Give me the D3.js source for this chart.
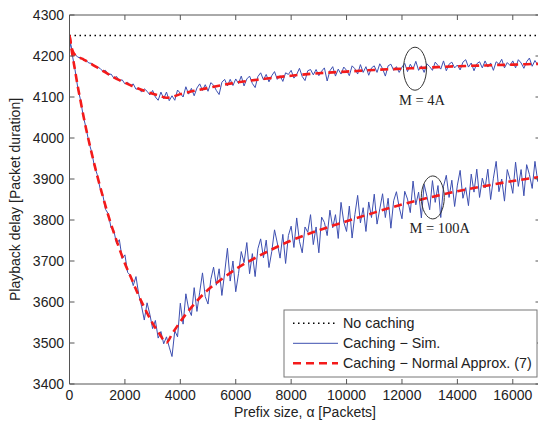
<!DOCTYPE html>
<html><head><meta charset="utf-8">
<script src="https://cdn.jsdelivr.net/npm/d3@7/dist/d3.min.js"></script>
<style>body{margin:0;background:#fff}svg{display:block}text{font-family:"Liberation Sans",Arial,Helvetica,sans-serif;fill:#222}</style>
</head><body><svg id="c" width="538" height="427"></svg>
<script>
// ---- data ----
const xTicks = [0,2000,4000,6000,8000,10000,12000,14000,16000];
const yTicks = [3400,3500,3600,3700,3800,3900,4000,4100,4200,4300];
const noCaching = 4250;
const approxX = [0,100,200,300,400,500,600,700,800,900,1000,1200,1400,1600,1800,2000,2250,2500,2750,3000,3250,3500,3700,4000,4500,5000,5500,6000,7000,8000,9000,10000,11000,12000,13000,14000,15000,16000,17000];
const approx4A = [4250,4215,4203,4199,4195,4192,4188,4184,4180,4176,4172,4164,4156,4148,4141,4135,4127,4120,4114,4108,4103,4098,4100,4107,4115,4122,4129,4135,4144,4152,4158,4162,4166,4169,4172,4175,4177,4179,4181];
const approx100A = [4250,4205,4165,4125,4090,4055,4022,3992,3963,3935,3908,3858,3811,3769,3730,3694,3655,3615,3580,3548,3522,3501,3522,3552,3595,3630,3656,3680,3718,3750,3775,3797,3818,3838,3855,3870,3883,3895,3905];
const simStep = 100; // simulation sampled every 100 packets, 0..17000
const sim4A = [4236,4212,4204,4197,4196,4190,4189,4183,4182,4174,
 4173,4170,4163,4165,4154,4156,4146,4150,4139,4142,
 4132,4136,4127,4132,4119,4122,4112,4120,4114,4105,
 4116,4100,4092,4112,4096,4112,4091,4103,4092,4117,
 4109,4100,4125,4107,4121,4103,4122,4132,4116,4130,
 4114,4135,4129,4116,4106,4136,4143,4127,4143,4128,
 4144,4133,4151,4127,4144,4151,4133,4123,4150,4159,
 4142,4155,4137,4152,4162,4143,4152,4138,4159,4155,
 4165,4146,4155,4170,4150,4140,4164,4167,4154,4167,
 4152,4163,4171,4139,4164,4174,4151,4168,4156,4173,
 4165,4152,4176,4169,4156,4179,4160,4174,4153,4171,
 4176,4160,4181,4169,4151,4176,4180,4165,4174,4160,
 4173,4182,4162,4180,4168,4187,4165,4176,4160,4181,
 4174,4165,4185,4177,4168,4188,4164,4180,4185,4171,
 4178,4166,4185,4191,4173,4183,4164,4181,4186,4171,
 4188,4173,4183,4165,4186,4180,4192,4171,4184,4177,
 4188,4171,4191,4183,4170,4186,4195,4175,4189,4178,
 4185];
const sim100A = [4250,4203,4166,4122,4092,4052,4024,3989,3966,3931,
 3911,3878,3862,3826,3815,3781,3774,3742,3752,3706,
 3715,3672,3665,3640,3662,3618,3590,3556,3598,3570,
 3535,3555,3512,3528,3498,3515,3490,3467,3530,3515,
 3597,3546,3620,3583,3567,3635,3577,3624,3671,3613,
 3595,3655,3685,3641,3681,3616,3671,3731,3651,3700,
 3625,3669,3723,3696,3745,3669,3718,3662,3730,3754,
 3708,3751,3684,3723,3776,3744,3707,3765,3694,3762,
 3785,3733,3805,3748,3720,3783,3770,3813,3740,3783,
 3720,3807,3794,3762,3824,3781,3813,3755,3843,3795,
 3772,3834,3756,3813,3860,3793,3830,3772,3844,3806,
 3863,3790,3827,3864,3806,3853,3780,3847,3869,3831,
 3803,3870,3851,3818,3895,3837,3868,3805,3887,3858,
 3825,3896,3843,3884,3806,3882,3909,3855,3897,3833,
 3885,3921,3853,3879,3835,3912,3868,3924,3855,3902,
 3878,3924,3850,3902,3943,3869,3900,3846,3923,3899,
 3865,3941,3882,3923,3859,3935,3911,3877,3943,3894,
 3925];
const annotations = [{a:12470, v:4169, label:"M = 4A"},{a:13112, v:3855, label:"M = 100A"}];
const legendItems = ["No caching","Caching \u2212 Sim.","Caching \u2212 Normal Approx. (7)"];

// ---- chart ----
const svg = d3.select("#c");
const L=69.5, R=540.5, T=15, B=384;
const x = d3.scaleLinear([0,17000],[L,R]);
const y = d3.scaleLinear([3400,4300],[B,T]);
const axisColor="#555";

svg.append("defs").append("clipPath").attr("id","clip").append("rect")
  .attr("x",L).attr("y",T).attr("width",R-L).attr("height",B-T);

const g = svg.append("g").attr("clip-path","url(#clip)");
g.append("line").attr("x1",x(0)).attr("x2",x(17000)).attr("y1",y(noCaching)).attr("y2",y(noCaching))
  .attr("stroke","#000").attr("stroke-width",1.6).attr("stroke-dasharray","1.5,3.5");

const simLine = d3.line().x((d,i)=>x(i*simStep)).y(d=>y(d));
[sim4A, sim100A].forEach(s=>{
  g.append("path").datum(s).attr("d",simLine).attr("fill","none")
   .attr("stroke","#3d4fb0").attr("stroke-width",1);
});
const apLine = d3.line().x((d,i)=>x(approxX[i])).y(d=>y(d)).curve(d3.curveMonotoneX);
[approx4A, approx100A].forEach(s=>{
  g.append("path").datum(s).attr("d",apLine).attr("fill","none")
   .attr("stroke","#f41a1a").attr("stroke-width",2.6).attr("stroke-dasharray","8,5");
});

// frame
const fr = svg.append("g").attr("stroke",axisColor).attr("stroke-width",1).attr("fill","none");
fr.append("path").attr("d",`M${L},${T}H${R}V${B}H${L}Z`);
xTicks.forEach(t=>{
  fr.append("line").attr("x1",x(t)).attr("x2",x(t)).attr("y1",B).attr("y2",B-5);
  fr.append("line").attr("x1",x(t)).attr("x2",x(t)).attr("y1",T).attr("y2",T+5);
});
yTicks.forEach(t=>{
  fr.append("line").attr("x1",L).attr("x2",L+5).attr("y1",y(t)).attr("y2",y(t));
  fr.append("line").attr("x1",R).attr("x2",R-5).attr("y1",y(t)).attr("y2",y(t));
});

// tick labels
svg.append("g").selectAll("text").data(yTicks).join("text")
  .attr("x",L-5.5).attr("y",d=>y(d)).attr("dy","0.36em").attr("text-anchor","end")
  .attr("font-size",14).attr("fill","#333").text(d=>d);
svg.append("g").selectAll("text").data(xTicks).join("text")
  .attr("x",d=>x(d)).attr("y",400).attr("text-anchor","middle")
  .attr("font-size",14).attr("fill","#333").text(d=>d);

// axis titles
svg.append("text").attr("x",(L+R)/2).attr("y",417).attr("text-anchor","middle")
  .attr("font-size",14).attr("fill","#333").text("Prefix size, \u03b1 [Packets]");
svg.append("text").attr("transform",`translate(20,${(T+B)/2}) rotate(-90)`)
  .attr("text-anchor","middle").attr("font-size",14).attr("fill","#333")
  .text("Playback delay [Packet duration]");

// annotations
annotations.forEach(a=>{
  svg.append("ellipse").attr("cx",x(a.a)).attr("cy",y(a.v)).attr("rx",11.5).attr("ry",21.5)
    .attr("fill","none").attr("stroke","#333").attr("stroke-width",1);
  svg.append("text").attr("x",x(a.a)+7).attr("y",y(a.v)+36).attr("text-anchor","middle")
    .style("font-family","'Liberation Serif','Times New Roman',serif").attr("font-size",14.5)
    .attr("fill","#222").text(a.label);
});

// legend
const lg = svg.append("g");
lg.append("rect").attr("x",284).attr("y",310).attr("width",253).attr("height",67)
  .attr("fill","#fff").attr("stroke","#777").attr("stroke-width",1);
const styles = [
  {stroke:"#000",w:1.6,dash:"1.5,3.5"},
  {stroke:"#3d4fb0",w:1,dash:null},
  {stroke:"#f41a1a",w:2.6,dash:"8,5"}];
legendItems.forEach((t,i)=>{
  const yy = 323.3 + i*20;
  const s = styles[i];
  const ln = lg.append("line").attr("x1",293).attr("x2",338).attr("y1",yy).attr("y2",yy)
    .attr("stroke",s.stroke).attr("stroke-width",s.w);
  if (s.dash) ln.attr("stroke-dasharray",s.dash);
  lg.append("text").attr("x",343).attr("y",yy).attr("dy","0.36em").attr("font-size",14.3)
    .attr("fill","#222").text(t);
});
</script></body></html>
